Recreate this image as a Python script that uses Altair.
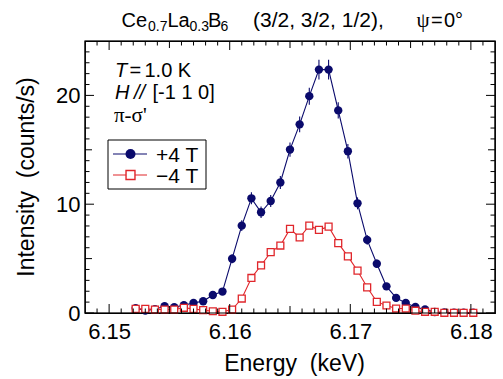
import altair as alt
import pandas as pd

# ---------------- data ----------------
energy = [6.1522, 6.1530, 6.1538, 6.1546, 6.1554, 6.1562, 6.1570, 6.1578, 6.1586, 6.1594,
          6.1602, 6.1610, 6.1618, 6.1626, 6.1634, 6.1642, 6.1650, 6.1658, 6.1666, 6.1674,
          6.1682, 6.1690, 6.1698, 6.1706, 6.1714, 6.1722, 6.1730, 6.1738, 6.1746, 6.1754,
          6.1762, 6.1770, 6.1778, 6.1786, 6.1794, 6.1802]
plus4 = [0.45, 0.23, 0.35, 0.62, 0.53, 0.71, 0.93, 1.08, 1.65, 1.97,
         4.99, 8.03, 10.54, 9.26, 10.29, 12.0, 15.02, 17.34, 19.93, 22.37,
         22.37, 18.62, 14.87, 10.08, 6.72, 4.53, 2.45, 1.39, 0.93, 0.55,
         0.32, 0.09, 0.05, 0.03, 0.02, 0.02]
plus4_err = [0.15, 0.12, 0.15, 0.18, 0.18, 0.2, 0.22, 0.25, 0.28, 0.3,
             0.42, 0.5, 0.55, 0.52, 0.55, 0.6, 0.65, 0.72, 0.78, 0.9,
             0.9, 0.75, 0.66, 0.55, 0.45, 0.38, 0.3, 0.25, 0.2, 0.18,
             0.15, 0.1, 0.1, 0.1, 0.1, 0.1]
minus4 = [0.38, 0.38, 0.32, 0.32, 0.32, 0.48, 0.38, 0.26, 0.16, 0.11,
          0.32, 1.33, 3.22, 4.37, 5.6, 6.2, 7.73, 6.94, 8.03, 7.64,
          7.94, 6.42, 5.2, 3.89, 2.36, 1.02, 0.69, 0.41, 0.41, 0.21,
          0.11, 0.11, 0.02, 0.02, 0.02, 0.02]

x_labels = [6.15, 6.16, 6.17, 6.18]
x_mid = [6.155, 6.165, 6.175]
x_minor = [6.149, 6.151, 6.152, 6.153, 6.154, 6.156, 6.157, 6.158, 6.159,
           6.161, 6.162, 6.163, 6.164, 6.166, 6.167, 6.168, 6.169,
           6.171, 6.172, 6.173, 6.174, 6.176, 6.177, 6.178, 6.179, 6.181]
y_labels = [0, 10, 20]
y_mid = [5, 15]
y_minor = [1, 2, 3, 4, 6, 7, 8, 9, 11, 12, 13, 14, 16, 17, 18, 19, 21, 22, 23, 24]

# ---------------- layout ----------------
W, H = 410, 272
PL, PT = 85, 41
NAVY = "#0a0a6c"
RED = "#e0262b"
FONT = "Liberation Sans"
SERIF = "Liberation Serif"

df = pd.DataFrame({"E": energy, "p": plus4, "err": plus4_err, "m": minus4})
df["lo"] = df["p"] - df["err"]
df["hi"] = df["p"] + df["err"]

xs = alt.Scale(domain=[6.148, 6.182], nice=False, zero=False)
ys = alt.Scale(domain=[0, 25], nice=False, zero=False)

x_axis = alt.Axis(values=x_labels, format=".2f", ticks=False, tickSize=0, domain=False,
                  grid=False, labelFontSize=22, labelPadding=25, labelBaseline="alphabetic",
                  labelColor="black", labelFont=FONT,
                  title="Energy\u00a0 (keV)", titleFontSize=23, titleFontWeight="normal",
                  titleFont=FONT, titleColor="black",
                  titleX=209, titleY=57, titleBaseline="alphabetic", titleAlign="center")
y_axis = alt.Axis(values=y_labels, ticks=False, tickSize=0, domain=False, grid=False,
                  labelFontSize=22, labelPadding=5, labelColor="black", labelFont=FONT,
                  title="Intensity\u00a0 (counts/s)", titleFontSize=23, titleFontWeight="normal",
                  titleFont=FONT, titleColor="black",
                  titleX=-51.5, titleY=135.5, titleBaseline="alphabetic", titleAlign="center",
                  titleAngle=270)


def X(field):
    return alt.X(field, scale=xs, axis=x_axis)


def Y(field):
    return alt.Y(field, scale=ys, axis=y_axis)


base = alt.Chart(df)

blue_line = base.mark_line(color=NAVY, strokeWidth=1.1).encode(x=X("E:Q"), y=Y("p:Q"))
blue_err = base.mark_rule(color=NAVY, strokeWidth=1.1).encode(x=X("E:Q"), y=Y("lo:Q"), y2="hi:Q")
blue_pts = base.mark_point(filled=True, shape="circle", size=70, color=NAVY, opacity=1).encode(
    x=X("E:Q"), y=Y("p:Q"))
red_line = base.mark_line(color=RED, strokeWidth=1.1).encode(x=X("E:Q"), y=Y("m:Q"))
red_pts = base.mark_point(shape="square", size=48, fill="white", fillOpacity=1, stroke=RED,
                          strokeWidth=1.3, opacity=1).encode(x=X("E:Q"), y=Y("m:Q"))

layers = [blue_line, blue_err, blue_pts, red_line, red_pts]


# inward ticks on all four sides
def xticks(vals, length):
    d = alt.Chart(pd.DataFrame({"E": vals}))
    out = []
    for y1, y2 in ((H, H - length), (0, length)):
        out.append(d.mark_rule(color="black", strokeWidth=1).encode(
            x=X("E:Q"), y=alt.value(y1), y2=alt.value(y2)))
    return out


def yticks(vals, length):
    d = alt.Chart(pd.DataFrame({"p": vals}))
    out = []
    for x1, x2 in ((0, length), (W, W - length)):
        out.append(d.mark_rule(color="black", strokeWidth=1).encode(
            y=Y("p:Q"), x=alt.value(x1), x2=alt.value(x2)))
    return out


layers += xticks(x_labels, 9) + xticks(x_mid, 7) + xticks(x_minor, 4.5)
layers += yticks(y_labels, 9) + yticks(y_mid, 7) + yticks(y_minor, 4.5)


# text helper: positions given in page pixels
def txt(s, x, y, size=20, font=FONT, style="normal", align="left", baseline="alphabetic"):
    return alt.Chart(pd.DataFrame({"t": [s]})).mark_text(
        font=font, fontSize=size, fontStyle=style, align=align, baseline=baseline,
        color="black").encode(x=alt.value(x - PL), y=alt.value(y - PT), text="t:N")


# title
layers += [
    txt("Ce", 121.5, 26.7), txt("0.7", 148, 30.5, 14),
    txt("La", 167.5, 26.7), txt("0.3", 189.5, 30.5, 14),
    txt("B", 208, 26.7), txt("6", 220.5, 30.5, 14),
    txt("(3/2, 3/2, 1/2),", 253, 26.7, 21),
    txt("\u03c8", 416.5, 26.7, 21, font=SERIF), txt("=", 431, 26.7), txt("0\u00b0", 444, 26.7),
]

# annotations
layers += [
    txt("T", 115, 76.7, style="italic"), txt("=", 129.5, 76.7), txt("1.0 K", 144.5, 76.7),
    txt("H", 115, 98.5, style="italic"), txt("//", 134, 98.5, style="italic"),
    txt("[-1 1 0]", 152.5, 98.5),
    txt("\u03c0-\u03c3'", 114, 122, 21, font=SERIF),
]

# frame + legend
one = alt.Chart(pd.DataFrame({"k": [0]}))
layers += [
    one.mark_rect(fill=None, fillOpacity=0, stroke="black", strokeWidth=1.2).encode(
        x=alt.value(0), x2=alt.value(W), y=alt.value(0), y2=alt.value(H)),
    one.mark_rect(fill="white", stroke="black", strokeWidth=1).encode(
        x=alt.value(108 - PL), x2=alt.value(206 - PL), y=alt.value(140 - PT), y2=alt.value(189 - PT)),
    one.mark_rule(color=NAVY, strokeWidth=1.1).encode(
        x=alt.value(113 - PL), x2=alt.value(147 - PL), y=alt.value(154 - PT)),
    one.mark_point(filled=True, shape="circle", size=100, color=NAVY, opacity=1).encode(
        x=alt.value(130.5 - PL), y=alt.value(154 - PT)),
    one.mark_rule(color=RED, strokeWidth=1.1).encode(
        x=alt.value(113 - PL), x2=alt.value(147 - PL), y=alt.value(175 - PT)),
    one.mark_point(shape="square", size=80, fill="white", fillOpacity=1, stroke=RED,
                   strokeWidth=1.4, opacity=1).encode(
        x=alt.value(130.5 - PL), y=alt.value(175 - PT)),
    txt("+4 T", 156, 161.7, 21),
    txt("\u22124 T", 156, 182.7, 21),
]

chart = alt.layer(*layers).properties(
    width=W, height=H,
    autosize=alt.AutoSizeParams(type="none"),
    padding={"left": PL, "top": PT, "right": 503 - PL - W, "bottom": 379 - PT - H},
    background="white",
).configure_view(stroke="black", strokeWidth=1.2)

chart.save("out.html", embed_options={"renderer": "svg", "actions": False})
